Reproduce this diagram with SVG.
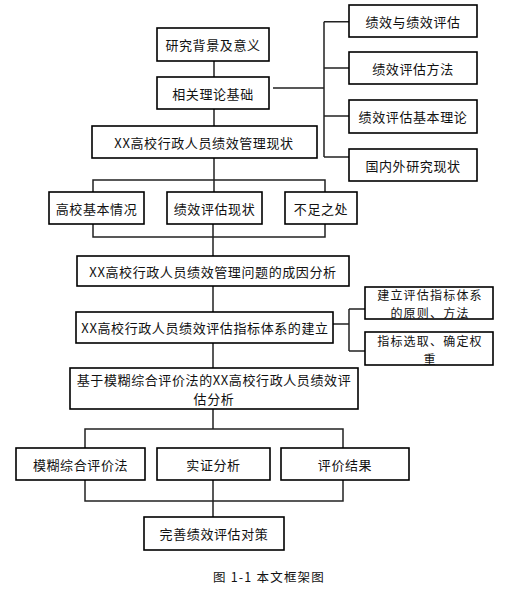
<svg xmlns="http://www.w3.org/2000/svg" width="522" height="595" viewBox="0 0 522 595">
<style>
.b{fill:#fff;stroke:#000;stroke-width:1.6}
.t{font-family:"Noto Sans CJK SC","Noto Sans",sans-serif;font-size:13px;fill:#111;text-anchor:middle;dominant-baseline:central;letter-spacing:0.6px}
.s{font-size:12px;letter-spacing:1.2px}
.c{fill:none;stroke:#222;stroke-width:1.5}
</style>
<rect width="522" height="595" fill="#fff"/>
<g id="connectors">
<path class="c" d="M214 61V77M214 109V126M214 158V192"/>
<path class="c" d="M273 88H324M324 21.7V157M324 21.7H349M324 68H349M324 116H349M324 157H349"/>
<path class="c" d="M93 192V180H325V192"/>
<path class="c" d="M93 224V237H325V224M213 224V256M213 286V312"/>
<path class="c" d="M333 324H349M349 309H365M349 351H365M349 309V351"/>
<path class="c" d="M213 343V368M213 409V429M85 448V429H343V448"/>
<path class="c" d="M85 480V501H343V480M213 480V517"/>
</g>
<g id="n1"><rect class="b" x="157" y="28" width="112" height="33"/><text class="t" x="213" y="44.5">研究背景及意义</text></g>
<g id="n2"><rect class="b" x="157" y="77" width="112" height="32"/><text class="t" x="213" y="93">相关理论基础</text></g>
<g id="r1"><rect class="b" x="349" y="5" width="128" height="32"/><text class="t" x="413" y="21">绩效与绩效评估</text></g>
<g id="r2"><rect class="b" x="349" y="52" width="128" height="32"/><text class="t" x="413" y="68">绩效评估方法</text></g>
<g id="r3"><rect class="b" x="349" y="100" width="128" height="33"/><text class="t" x="413" y="116.5">绩效评估基本理论</text></g>
<g id="r4"><rect class="b" x="349" y="149" width="128" height="32"/><text class="t" x="413" y="165">国内外研究现状</text></g>
<g id="n3"><rect class="b" x="92" y="126" width="225" height="32"/><text class="t" x="204" y="142">XX高校行政人员绩效管理现状</text></g>
<g id="s1"><rect class="b" x="49" y="192" width="95" height="32"/><text class="t" x="96.5" y="208">高校基本情况</text></g>
<g id="s2"><rect class="b" x="167" y="192" width="95" height="32"/><text class="t" x="214.5" y="208">绩效评估现状</text></g>
<g id="s3"><rect class="b" x="285" y="192" width="72" height="32"/><text class="t" x="321" y="208">不足之处</text></g>
<g id="n4"><rect class="b" x="77" y="256" width="272" height="30"/><text class="t" x="213" y="271">XX高校行政人员绩效管理问题的成因分析</text></g>
<g id="n5"><rect class="b" x="76" y="312" width="257" height="31"/><text class="t" x="205" y="327.5">XX高校行政人员绩效评估指标体系的建立</text></g>
<g id="q1"><rect class="b" x="365" y="287" width="128" height="32"/><text class="t s" x="430" y="294.5">建立评估指标体系</text><text class="t s" x="430" y="312">的原则、方法</text></g>
<g id="q2"><rect class="b" x="365" y="332" width="128" height="33"/><text class="t s" x="430" y="340.5">指标选取、确定权</text><text class="t s" x="430" y="358">重</text></g>
<g id="n6"><rect class="b" x="70" y="368" width="288" height="41"/><text class="t" x="214" y="379.5">基于模糊综合评价法的XX高校行政人员绩效评</text><text class="t" x="214" y="398.5">估分析</text></g>
<g id="m1"><rect class="b" x="16" y="448" width="129" height="32"/><text class="t" x="80.5" y="464">模糊综合评价法</text></g>
<g id="m2"><rect class="b" x="157" y="448" width="113" height="32"/><text class="t" x="213.5" y="464">实证分析</text></g>
<g id="m3"><rect class="b" x="281" y="448" width="128" height="32"/><text class="t" x="345" y="464">评价结果</text></g>
<g id="n7"><rect class="b" x="144" y="517" width="140" height="33"/><text class="t" x="214" y="533.5">完善绩效评估对策</text></g>
<text class="t" x="269" y="576" style="font-size:12.5px;letter-spacing:1.2px">图 1-1 本文框架图</text>
</svg>
